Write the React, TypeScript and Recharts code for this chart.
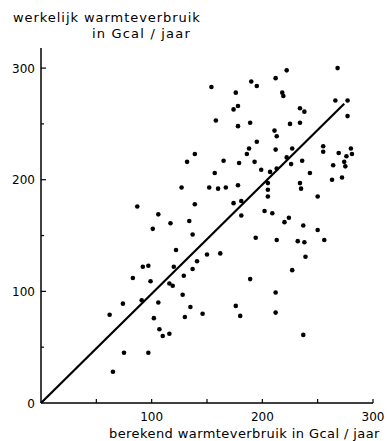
import { ScatterChart, Scatter, XAxis, YAxis, ReferenceLine } from 'recharts';

// berekend (x) vs werkelijk (y) warmteverbruik, Gcal/jaar
const berekend = [
  87, 106, 117, 134, 101, 127, 139, 152, 132, 139, 154, 190, 195, 212, 176, 218, 219, 174, 178, 158,
  178, 189, 211, 213, 195, 188, 186, 212, 165, 179, 193, 157, 199, 207, 213, 222, 268, 266, 277, 234,
  238, 277, 225, 234, 227, 255, 255, 280, 281, 269, 276, 274, 275, 264, 272, 263, 222, 226, 236, 243,
  234, 235, 250, 224, 160, 167, 178, 174, 181, 181, 202, 209, 205, 205, 205, 220, 237, 250, 137, 122,
  150, 92, 97, 120, 141, 137, 83, 99, 116, 119, 129, 74, 91, 106, 128, 62, 102, 135, 130, 146,
  107, 110, 116, 75, 97, 65, 194, 213, 162, 189, 212, 176, 180, 212, 232, 238, 256, 239, 227, 237,
];
const werkelijk = [
  176, 169, 161, 163, 156, 193, 178, 193, 216, 223, 283, 288, 284, 291, 278, 278, 275, 263, 266, 253,
  248, 251, 244, 239, 234, 228, 223, 227, 217, 215, 216, 206, 209, 207, 210, 298, 300, 271, 271, 264,
  261, 257, 250, 251, 228, 230, 225, 228, 223, 224, 221, 216, 212, 213, 202, 200, 220, 214, 217, 206,
  197, 192, 185, 166, 192, 193, 195, 179, 181, 168, 172, 170, 197, 191, 185, 162, 159, 155, 151, 137,
  133, 122, 123, 122, 127, 120, 112, 109, 107, 105, 114, 89, 92, 90, 97, 79, 76, 86, 77, 80,
  66, 60, 62, 45, 45, 28, 148, 146, 134, 111, 99, 87, 78, 81, 145, 144, 146, 131, 119, 61,
];

const xTicks = [50, 100, 150, 200, 250, 300];
const yTicks = [0, 50, 100, 150, 200, 250, 300];
const fitLine = [{ x: 0, y: 0 }, { x: 274, y: 268 }];

const points = berekend.map((x, i) => ({ x, y: werkelijk[i] }));

const font = 'DejaVu Sans';
const titleStyle = {
  position: 'absolute' as const,
  fontFamily: font,
  fontSize: 13,
  lineHeight: '12px',
  letterSpacing: 0.42,
  color: '#000',
  whiteSpace: 'nowrap' as const,
};

function YTick({ x, y, payload }: any) {
  const v = payload.value;
  const major = v % 100 === 0;
  return (
    <g>
      {v !== 0 && (
        <line x1={x + 6} x2={x + 6 + (major ? 5 : 3)} y1={y} y2={y} stroke="#000" strokeWidth={1.2} />
      )}
      {major && (
        <text x={x} y={y + 4.5} textAnchor="end" fontSize={12} fontFamily={font} fill="#000">
          {v}
        </text>
      )}
    </g>
  );
}

function XTick({ x, y, payload }: any) {
  const v = payload.value;
  const major = v % 100 === 0;
  return (
    <g>
      <line x1={x} x2={x} y1={y - 7} y2={y - 11} stroke="#000" strokeWidth={1.2} />
      {major && (
        <text x={x} y={y + 10.5} textAnchor="middle" fontSize={12} fontFamily={font} fill="#000">
          {v}
        </text>
      )}
    </g>
  );
}

const dot = (p: any) => <circle cx={p.cx} cy={p.cy} r={2.3} fill="#000" />;

export default function App() {
  return (
    <div style={{ position: 'absolute', left: 0, top: 0, width: 387, height: 441, background: '#fff' }}>
      <div style={{ ...titleStyle, left: 13, top: 12, letterSpacing: 0.95 }}>werkelijk warmteverbruik</div>
      <div style={{ ...titleStyle, right: 196, top: 28, letterSpacing: 1.2 }}>in Gcal / jaar</div>
      <ScatterChart width={387} height={441} margin={{ top: 48, right: 14, bottom: 0, left: 0 }}>
        <XAxis
          type="number"
          dataKey="x"
          domain={[0, 300]}
          ticks={xTicks}
          height={38}
          tickSize={0}
          tickMargin={7}
          tickLine={false}
          tick={<XTick />}
          axisLine={{ stroke: '#000', strokeWidth: 1.5 }}
        />
        <YAxis
          type="number"
          dataKey="y"
          domain={[0, 318]}
          ticks={yTicks}
          width={41}
          tickSize={0}
          tickMargin={6}
          tickLine={false}
          tick={<YTick />}
          axisLine={{ stroke: '#000', strokeWidth: 1.5 }}
        />
        <ReferenceLine segment={fitLine} stroke="#000" strokeWidth={2.2} ifOverflow="visible" />
        <Scatter data={points} shape={dot} isAnimationActive={false} />
      </ScatterChart>
      <div style={{ ...titleStyle, left: 109, top: 428 }}>berekend warmteverbruik in Gcal / jaar</div>
    </div>
  );
}
